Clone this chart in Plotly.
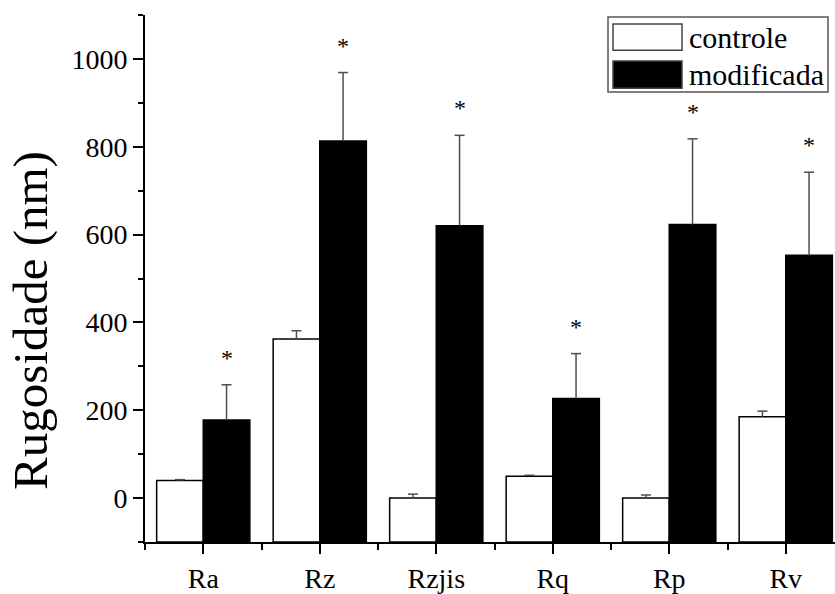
import plotly.graph_objects as go

# Roughness parameters and group measurements (nm)
categories = ["Ra", "Rz", "Rzjis", "Rq", "Rp", "Rv"]
series_names = ["controle", "modificada"]
controle_mean = [40, 362, 0, 50, 0, 185]
controle_sd = [2, 19, 9, 2, 7, 13]
modificada_mean = [178, 813, 620, 227, 623, 553]
modificada_sd = [80, 156, 206, 102, 195, 189]
significant = [True, True, True, True, True, True]

Y_MIN, Y_MAX = -100, 1100
W, H = 835, 594
M_L, M_R, M_T, M_B = 145, 0, 15, 45
PLOT_W = W - M_L - M_R
PLOT_H = H - M_T - M_B
CAT_PX = 116.5          # pixel width of one category slot
BAR_W = 0.4             # width of each bar in category units
CAP_HALF = 5 / CAT_PX   # half-width of error-bar caps
FONT = "Liberation Serif"

xs = list(range(len(categories)))


def px(xpix):
    return (xpix - M_L) / PLOT_W


def py(ypix):
    return (H - M_B - ypix) / PLOT_H


def bar_trace(name, means, offset, fill):
    return go.Bar(
        name=name,
        x=[x + offset for x in xs],
        y=[m - Y_MIN for m in means],
        base=Y_MIN,
        width=BAR_W,
        marker=dict(color=fill, line=dict(color="black", width=1.5)),
        showlegend=False,
    )


def upper_error_trace(means, sds, offset):
    # one-sided (upward) error bars: stem from bar top plus a cap
    ex, ey = [], []
    for x, m, s in zip(xs, means, sds):
        cx = x + offset
        ex += [cx, cx, None, cx - CAP_HALF, cx + CAP_HALF, None]
        ey += [m, m + s, None, m + s, m + s, None]
    return go.Scatter(x=ex, y=ey, mode="lines",
                      line=dict(color="#4d4d4d", width=1.5),
                      hoverinfo="skip", showlegend=False)


fig = go.Figure()
fig.add_trace(bar_trace(series_names[0], controle_mean, -BAR_W / 2, "white"))
fig.add_trace(bar_trace(series_names[1], modificada_mean, BAR_W / 2, "black"))
fig.add_trace(upper_error_trace(controle_mean, controle_sd, -BAR_W / 2))
fig.add_trace(upper_error_trace(modificada_mean, modificada_sd, BAR_W / 2))

# significance markers above the modified group
for i, sig in enumerate(significant):
    if sig:
        fig.add_annotation(
            x=xs[i] + BAR_W / 2, y=modificada_mean[i] + modificada_sd[i],
            xref="x", yref="y", text="*", showarrow=False,
            yanchor="bottom", yshift=12,
            font=dict(family=FONT, size=24, color="black"),
        )

# y-axis title
fig.add_annotation(
    x=px(31), y=py(325), xref="paper", yref="paper",
    text="Rugosidade (nm)", textangle=-90, showarrow=False,
    xanchor="center", yanchor="middle",
    font=dict(family=FONT, size=49, color="black"),
)

# legend box with large swatches
fig.add_shape(type="rect", xref="paper", yref="paper",
              x0=px(608), x1=px(828), y0=py(93), y1=py(17),
              line=dict(color="#555555", width=1.5), fillcolor="white")
swatch_rows = [(24, 50.7, "white"), (61.7, 89.3, "black")]
for (top, bottom, fill), name in zip(swatch_rows, series_names):
    fig.add_shape(type="rect", xref="paper", yref="paper",
                  x0=px(613), x1=px(682), y0=py(bottom), y1=py(top),
                  line=dict(color="#444444", width=1.5), fillcolor=fill)
    fig.add_annotation(x=px(687), y=py((top + bottom) / 2), xref="paper", yref="paper",
                       text=name, showarrow=False, xanchor="left", yanchor="middle",
                       font=dict(family=FONT, size=30, color="black"))

fig.update_layout(
    width=W, height=H,
    margin=dict(l=M_L, r=M_R, t=M_T, b=M_B, pad=0),
    paper_bgcolor="white", plot_bgcolor="white",
    barmode="overlay",
    font=dict(family=FONT, size=28, color="black"),
    xaxis=dict(
        range=[-0.5, -0.5 + PLOT_W / CAT_PX],
        tickmode="array", tickvals=xs, ticktext=categories,
        ticks="outside", ticklen=10, tickwidth=2, tickcolor="black",
        minor=dict(ticks="outside", ticklen=6, tickwidth=2, tickcolor="black",
                   tick0=0.5, dtick=1),
        showline=True, linecolor="black", linewidth=2,
        showgrid=False, zeroline=False,
        tickfont=dict(family=FONT, size=28, color="black"),
    ),
    yaxis=dict(
        range=[Y_MIN, Y_MAX], tick0=0, dtick=200,
        ticks="outside", ticklen=10, tickwidth=2, tickcolor="black",
        minor=dict(ticks="outside", ticklen=5, tickwidth=2, tickcolor="black",
                   tick0=0, dtick=100),
        showline=True, linecolor="black", linewidth=2,
        showgrid=False, zeroline=False,
        tickfont=dict(family=FONT, size=28, color="black"),
    ),
)

fig.write_html("out.html")
